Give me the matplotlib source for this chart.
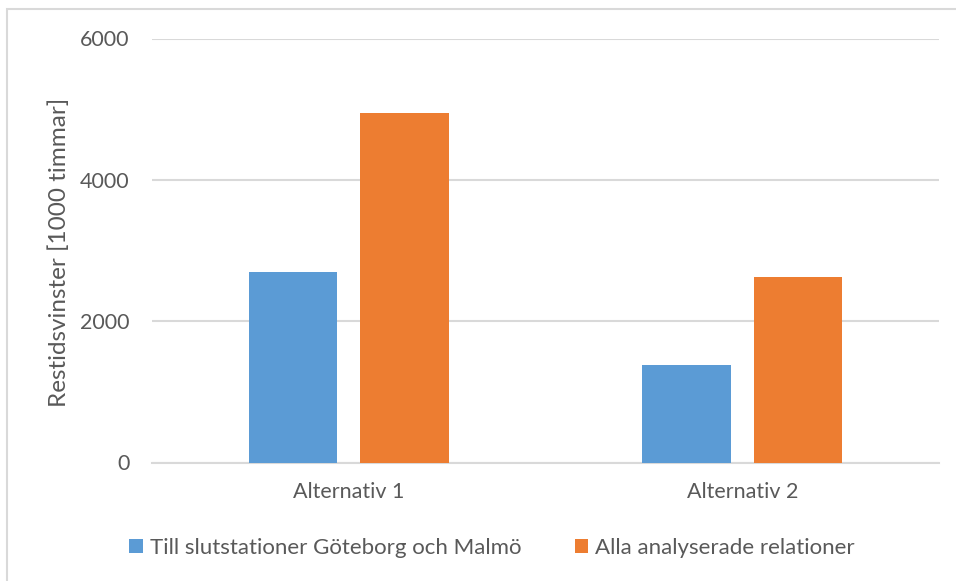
import numpy as np
import matplotlib.pyplot as plt
from matplotlib.patches import Rectangle

categories = ['Alternativ 1', 'Alternativ 2']
series_names = ['Till slutstationer Göteborg och Malmö', 'Alla analyserade relationer']
goteborg_malmo = [2690, 1380]
alla_relationer = [4940, 2620]
yticks = [0, 2000, 4000, 6000]

plt.rcParams['font.family'] = ['Lato', 'DejaVu Sans']
txt = '#595959'

fig = plt.figure(figsize=(9.56, 5.81), dpi=100)
W, H = 956, 581
ax = fig.add_axes([152 / W, 1 - 462.5 / H, (939 - 152) / W, (462.5 - 38.5) / H])

# chart border
fig.patches.append(Rectangle((7 / W, -0.01), 1.0, 1 - 9 / H + 0.01, transform=fig.transFigure,
                             fill=False, edgecolor='#d9d9d9', linewidth=1.5))

x = np.arange(len(categories))
w = 0.225
off = 0.142
ax.bar(x - off, goteborg_malmo, w, color='#5B9BD5', label=series_names[0], zorder=3)
ax.bar(x + off, alla_relationer, w, color='#ED7D31', label=series_names[1], zorder=3)

ax.set_xlim(-0.5, 1.5)
ax.set_ylim(0, 6000)
ax.set_yticks(yticks)
ax.set_xticks(x)
ax.set_xticklabels(categories)
ax.tick_params(axis='both', length=0, labelsize=15.5, colors=txt)
ax.tick_params(axis='y', pad=16)
ax.tick_params(axis='x', pad=14)
ax.grid(axis='y', color='#d9d9d9', linewidth=1.5, zorder=0)
for s in ['top', 'right', 'left']:
    ax.spines[s].set_visible(False)
ax.spines['bottom'].set_color('#d9d9d9')
ax.spines['bottom'].set_linewidth(1.5)

ax.set_ylabel('Restidsvinster [1000 timmar]', fontsize=17.5, color=txt)
ax.yaxis.set_label_coords(-0.104, 0.496)

leg = fig.legend(loc='center', bbox_to_anchor=(492 / W, 1 - 548 / H), ncol=2, frameon=False,
                 fontsize=16, handlelength=0.6, handleheight=0.6, handletextpad=0.32,
                 columnspacing=2.4, labelcolor=txt)

fig.savefig('out.png', dpi=100)
